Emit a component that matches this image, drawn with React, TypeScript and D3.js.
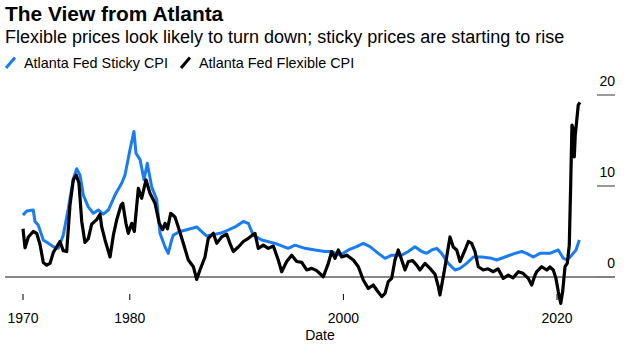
import React from "react";
import * as d3 from "d3";

const stickyYears = [
  1970.0, 1970.35, 1970.96, 1971.12, 1971.43, 1971.9, 1972.37, 1972.84, 1973.31, 1973.77,
  1974.24, 1974.71, 1975.03, 1975.34, 1975.65, 1976.11, 1976.58, 1977.05, 1977.52, 1977.99,
  1978.61, 1979.24, 1979.55, 1980.02, 1980.39, 1980.58, 1980.96, 1981.33, 1981.64, 1982.05,
  1982.52, 1982.83, 1983.3, 1983.6, 1983.92, 1984.07, 1984.7, 1985.33, 1986.26, 1987.2,
  1988.45, 1988.91, 1989.85, 1990.63, 1991.1, 1991.56, 1992.35, 1993.6, 1994.84, 1995.47,
  1996.4, 1997.34, 1998.28, 1998.9, 1999.68, 2000.46, 2001.24, 2001.86, 2002.49, 2003.27,
  2003.9, 2004.52, 2005.46, 2006.08, 2006.7, 2007.33, 2007.8, 2008.27, 2008.74, 2009.2,
  2009.82, 2010.45, 2010.92, 2011.54, 2012.16, 2012.95, 2013.89, 2014.35, 2015.13, 2016.07,
  2016.69, 2017.16, 2017.78, 2018.41, 2019.34, 2020.12, 2020.59, 2020.96, 2021.38, 2021.78,
  2022.09,
];
const stickyValues = [
  6.8, 7.25, 7.36, 6.1, 5.7, 4.07, 3.7, 3.33, 3.15, 4.6,
  7.5, 10.8, 11.9, 11.2, 9.0, 7.7, 7.0, 7.36, 6.9, 7.36,
  9.0, 10.3, 11.2, 14.0, 16.0, 13.6, 12.9, 10.7, 12.5, 9.9,
  8.5, 4.8, 3.3, 2.6, 4.07, 4.6, 5.0, 5.2, 5.5, 4.5,
  4.8, 5.0, 5.5, 6.1, 5.9, 4.6, 4.07, 3.7, 3.15, 3.5,
  3.15, 2.97, 2.8, 2.8, 2.4, 2.97, 3.33, 3.7, 3.33, 2.6,
  2.05, 2.4, 2.4, 2.8, 3.33, 2.8, 2.6, 2.97, 3.15, 2.6,
  1.5, 0.77, 0.95, 1.5, 2.2, 2.2, 2.05, 1.87, 2.2, 2.6,
  2.8, 2.6, 2.2, 2.6, 2.6, 2.97, 2.05, 1.87, 2.4, 2.97,
  4.07,
];

const flexYears = [
  1970.0, 1970.19, 1970.5, 1970.96, 1971.28, 1971.59, 1971.9, 1972.22, 1972.53, 1972.84,
  1973.1, 1973.46, 1973.77, 1974.09, 1974.4, 1974.71, 1974.99, 1975.24, 1975.5, 1975.8,
  1976.11, 1976.43, 1976.9, 1977.21, 1977.37, 1977.68, 1978.15, 1978.46, 1978.77, 1979.18,
  1979.34, 1979.64, 1979.86, 1980.18, 1980.42, 1980.8, 1981.11, 1981.52, 1981.89, 1982.36,
  1982.76, 1983.08, 1983.3, 1983.53, 1983.83, 1984.23, 1984.54, 1985.01, 1985.48, 1985.95,
  1986.26, 1986.57, 1987.04, 1987.35, 1987.82, 1988.14, 1988.6, 1989.07, 1989.38, 1989.69,
  1990.16, 1990.63, 1991.1, 1991.72, 1992.03, 1992.5, 1992.97, 1993.44, 1993.9, 1994.22,
  1994.69, 1995.16, 1995.63, 1996.1, 1996.56, 1997.03, 1997.5, 1998.12, 1998.59, 1998.9,
  1999.21, 1999.52, 1999.84, 2000.31, 2000.93, 2001.4, 2001.86, 2002.33, 2002.8, 2003.12,
  2003.59, 2003.9, 2004.2, 2004.52, 2004.83, 2005.14, 2005.46, 2005.77, 2006.08, 2006.48,
  2006.86, 2007.17, 2007.64, 2008.11, 2008.58, 2008.89, 2009.04, 2009.35, 2009.67, 2009.98,
  2010.29, 2010.61, 2010.92, 2011.39, 2011.7, 2012.01, 2012.32, 2012.63, 2013.1, 2013.54,
  2014.04, 2014.48, 2014.97, 2015.44, 2015.88, 2016.38, 2016.82, 2017.31, 2017.63, 2017.94,
  2018.1, 2018.57, 2019.04, 2019.34, 2019.65, 2019.9, 2020.12, 2020.35, 2020.53, 2020.75,
  2020.96, 2021.15, 2021.28, 2021.4, 2021.52, 2021.62, 2021.71, 2021.84, 2021.99, 2022.15,
];
const flexValues = [
  5.3, 3.2, 4.4, 5.0, 4.8, 3.6, 1.6, 1.3, 1.5, 2.7,
  3.2, 3.9, 2.9, 2.8, 7.9, 10.66, 11.2, 10.3, 6.1, 3.8,
  4.2, 5.8, 6.3, 6.9, 5.5, 4.07, 2.2, 4.6, 6.26, 7.9,
  8.1, 5.9, 4.8, 5.9, 5.0, 9.75, 8.65, 10.66, 9.2, 8.1,
  5.9, 5.2, 5.9, 5.3, 7.0, 6.6, 5.5, 3.7, 1.87, 1.13,
  -0.26, 0.77, 2.2, 4.25, 4.8, 3.7, 4.4, 4.7, 3.7, 2.8,
  3.3, 3.9, 4.25, 4.8, 3.15, 3.5, 3.15, 3.4, 1.87, 0.58,
  1.7, 2.4, 1.7, 1.6, 0.77, 0.95, 0.7, 0.03, 1.5, 2.8,
  2.05, 2.97, 2.2, 2.4, 1.87, 1.13, -0.33, -1.25, -0.88, -1.43,
  -2.16, -1.8, -0.5, -0.15, 1.87, 2.97, 1.87, 0.77, 1.7, 1.8,
  1.3, 0.77, 1.5, 0.95, 0.3, -1.06, -1.98, 0.03, 2.2, 4.4,
  3.3, 2.97, 1.7, 2.97, 3.9, 3.7, 2.8, 1.13, 0.77, 0.9,
  0.58, 0.9, -0.15, 0.2, -0.1, 0.58, 0.4, -0.15, -0.88, 0.2,
  0.58, 1.13, 0.77, 1.1, 0.77, -0.15, -1.6, -2.9, -1.6, 1.13,
  1.5, 3.5, 10.1, 16.7, 16.3, 13.2, 15.6, 17.1, 18.9, 19.2,
];

const xTickYears = [1970, 1980, 2000, 2020];
const yTicks = [0, 10, 20];
const seriesNames = ["Atlanta Fed Sticky CPI", "Atlanta Fed Flexible CPI"];
const title = "The View from Atlanta";
const subtitle = "Flexible prices look likely to turn down; sticky prices are starting to rise";
const xAxisTitle = "Date";

const BLUE = "#1a7cf5";
const FONT = "'Liberation Sans', Arial, Helvetica, sans-serif";

export default function App() {
  const x = d3.scaleLinear().domain([1970, 2020]).range([23, 557]);
  const y = d3.scaleLinear().domain([0, 20]).range([277, 95]);

  const line = d3
    .line<[number, number]>()
    .x((d) => x(d[0]))
    .y((d) => y(d[1]));

  const sticky: [number, number][] = stickyYears.map((yr, i) => [yr, stickyValues[i]]);
  const flex: [number, number][] = flexYears.map((yr, i) => [yr, flexValues[i]]);

  const axisRight = 615;
  const tickLeft = 597;

  return (
    <svg
      width={632}
      height={347}
      style={{ position: "absolute", left: 0, top: 0, background: "#fff" }}
      fontFamily={FONT}
    >
      <text x={5} y={21} fontSize={20.9} fontWeight="bold" fill="#000">
        {title}
      </text>
      <text x={5} y={43} fontSize={18} fill="#000">
        {subtitle}
      </text>

      {/* legend */}
      <line x1={6} y1={68} x2={15} y2={57.5} stroke={BLUE} strokeWidth={3} />
      <text x={24} y={68} fontSize={14.4} fill="#000">
        {seriesNames[0]}
      </text>
      <line x1={181} y1={68} x2={190} y2={57.5} stroke="#000" strokeWidth={3} />
      <text x={199} y={68} fontSize={14.4} fill="#000">
        {seriesNames[1]}
      </text>

      {/* y axis ticks (right) */}
      {yTicks.map((t) => (
        <g key={t}>
          <line
            x1={tickLeft}
            x2={axisRight}
            y1={y(t)}
            y2={y(t)}
            stroke={t === 0 ? "#000" : "#999"}
            strokeWidth={t === 0 ? 1 : 2}
          />
          <text x={axisRight} y={y(t) - 9} fontSize={14} textAnchor="end" fill="#000">
            {t}
          </text>
        </g>
      ))}

      {/* zero baseline */}
      <line x1={5} x2={tickLeft} y1={y(0)} y2={y(0)} stroke="#888" strokeWidth={2} />

      {/* x axis */}
      {xTickYears.map((t) => (
        <g key={t}>
          <line x1={x(t)} x2={x(t)} y1={294} y2={300} stroke="#000" strokeWidth={1} />
          <text x={x(t)} y={323} fontSize={14} textAnchor="middle" fill="#000">
            {t}
          </text>
        </g>
      ))}
      <text x={320} y={340} fontSize={14} textAnchor="middle" fill="#000">
        {xAxisTitle}
      </text>

      <path d={line(sticky) || ""} fill="none" stroke={BLUE} strokeWidth={3} strokeLinejoin="round" />
      <path d={line(flex) || ""} fill="none" stroke="#000" strokeWidth={3.2} strokeLinejoin="round" />
    </svg>
  );
}
